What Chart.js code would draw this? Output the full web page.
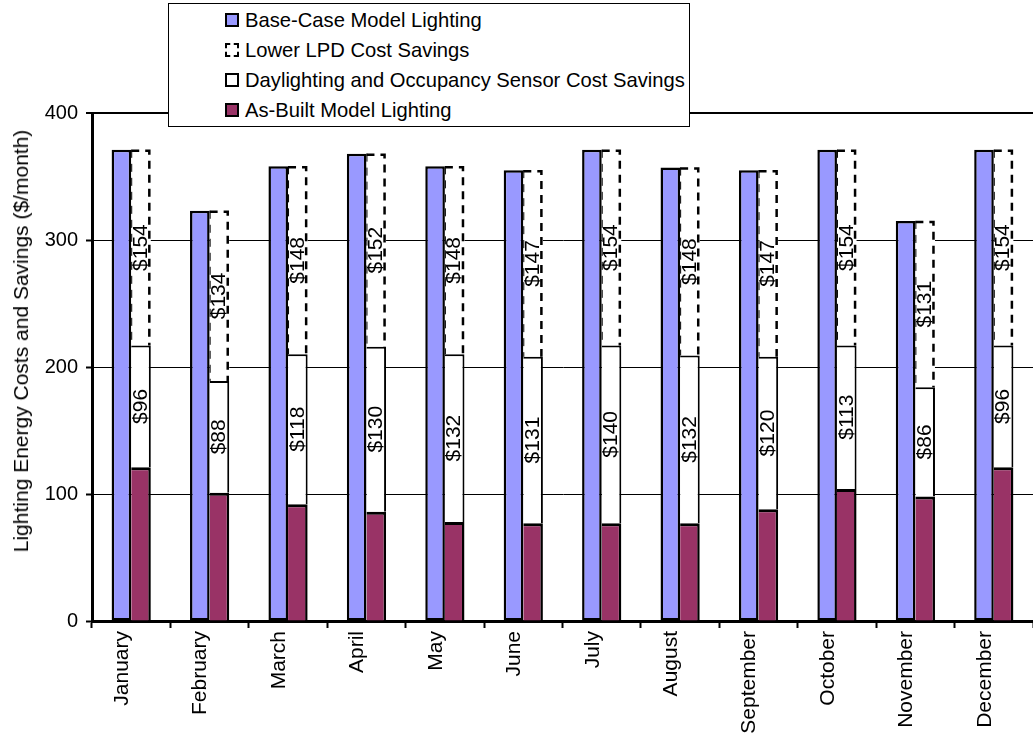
<!DOCTYPE html>
<html>
<head>
<meta charset="utf-8">
<title>Lighting Energy Costs and Savings</title>
<script src="https://cdn.jsdelivr.net/npm/chart.js@4.4.0/dist/chart.umd.min.js"></script>
<style>
  body { margin: 0; background: #fff; }
  #wrap { position: relative; width: 1033px; height: 736px; }
  #yTitle {
    position: absolute; left: 21px; top: 341px;
    transform: translate(-50%, -50%) rotate(-90deg);
    white-space: nowrap;
    font: 21px "Liberation Sans", Arial, sans-serif; color: #000;
  }
  #legend {
    position: absolute; left: 168px; top: 3px; width: 522px; height: 124px;
    box-sizing: border-box; border: 1px solid #000; background: #fff;
    padding-top: 1px;
    font: 20.2px "Liberation Sans", Arial, sans-serif; color: #000;
  }
  .row { height: 30px; display: flex; align-items: center; white-space: nowrap; }
  .swatch {
    width: 14px; height: 14px; box-sizing: border-box;
    margin-left: 56px; margin-right: 6px;
    border: 2px solid #000;
  }
</style>
</head>
<body>
<div id="wrap">
  <canvas id="savingsChart"></canvas>
  <div id="yTitle">Lighting Energy Costs and Savings ($/month)</div>
  <div id="legend"></div>
</div>
<script>
// values, $/month
var months = ['January', 'February', 'March', 'April', 'May', 'June',
              'July', 'August', 'September', 'October', 'November', 'December'];
var baseCase = [371, 323, 358, 368, 358, 355, 371, 357, 355, 371, 315, 371];
var asBuilt = [121, 101, 92, 86, 78, 77, 77, 77, 88, 104, 98, 121];
var daylightSavings = [96, 88, 118, 130, 132, 131, 140, 132, 120, 113, 86, 96];
var lpdSavings = [154, 134, 148, 152, 148, 147, 154, 148, 147, 154, 131, 154];
var yTicks = [0, 100, 200, 300, 400];

var seriesNames = {
    base: 'Base-Case Model Lighting',
    lpd: 'Lower LPD Cost Savings',
    daylight: 'Daylighting and Occupancy Sensor Cost Savings',
    built: 'As-Built Model Lighting'
};

var FONT = '"Liberation Sans", Arial, sans-serif';
Chart.defaults.font.family = FONT;
Chart.defaults.font.size = 20;
Chart.defaults.color = '#000';

// legend, in the order of the original
var legendItems = [
    { name: seriesNames.base, style: 'background:#9999FF;' },
    { name: seriesNames.lpd, style: 'background:#fff;border-style:dashed;' },
    { name: seriesNames.daylight, style: 'background:#fff;' },
    { name: seriesNames.built, style: 'background:#993366;' }
];
document.getElementById('legend').innerHTML = legendItems.map(function (it) {
    return '<div class="row"><span class="swatch" style="' + it.style + '"></span>' + it.name + '</div>';
}).join('');

// dashed outline round the Lower LPD segment
var lpdOutline = {
    id: 'lpdOutline',
    afterDatasetsDraw: function (chart) {
        var meta = chart.getDatasetMeta(3);
        var ctx = chart.ctx;
        ctx.save();
        ctx.strokeStyle = '#000';
        ctx.setLineDash([8, 6]);
        meta.data.forEach(function (bar) {
            var p = bar.getProps(['x', 'y', 'base', 'width'], true);
            var l = p.x - p.width / 2, r = p.x + p.width / 2;
            ctx.lineWidth = 2.5;
            ctx.beginPath();
            ctx.moveTo(l, p.y + 1);
            ctx.lineTo(r - 1.5, p.y + 1);
            ctx.lineTo(r - 1.5, p.base);
            ctx.stroke();
            ctx.lineWidth = 1;
            ctx.beginPath();
            ctx.moveTo(l + 0.5, p.y);
            ctx.lineTo(l + 0.5, p.base);
            ctx.stroke();
        });
        ctx.restore();
    }
};

// "$154" style labels inside both savings segments
var segmentLabels = {
    id: 'segmentLabels',
    afterDatasetsDraw: function (chart) {
        var ctx = chart.ctx;
        ctx.save();
        ctx.font = '21px ' + FONT;
        ctx.fillStyle = '#000';
        ctx.textAlign = 'center';
        ctx.textBaseline = 'middle';
        [2, 3].forEach(function (di) {
            var meta = chart.getDatasetMeta(di);
            var values = chart.data.datasets[di].data;
            meta.data.forEach(function (bar, i) {
                var p = bar.getProps(['x', 'y', 'base'], true);
                ctx.save();
                ctx.translate(p.x, (p.y + p.base) / 2);
                ctx.rotate(-Math.PI / 2);
                ctx.fillText('$' + values[i], 0, 0);
                ctx.restore();
            });
        });
        ctx.restore();
    }
};

var ctx = document.getElementById('savingsChart').getContext('2d');
var savingsChart = new Chart(ctx, {
    type: 'bar',
    data: {
        labels: months,
        datasets: [{
            label: seriesNames.base,
            data: baseCase,
            stack: 'base',
            backgroundColor: '#9999FF',
            borderColor: '#000',
            borderWidth: 2.5,
            borderSkipped: false
        }, {
            label: seriesNames.built,
            data: asBuilt,
            stack: 'built',
            backgroundColor: '#993366',
            borderColor: '#000',
            borderWidth: { top: 3, right: 2.5, left: 0, bottom: 0 }
        }, {
            label: seriesNames.daylight,
            data: daylightSavings,
            stack: 'built',
            backgroundColor: '#fff',
            borderColor: '#000',
            borderWidth: { top: 2, right: 2, left: 0, bottom: 0 }
        }, {
            label: seriesNames.lpd,
            data: lpdSavings,
            stack: 'built',
            backgroundColor: '#fff',
            borderWidth: 0
        }]
    },
    options: {
        responsive: true,
        maintainAspectRatio: false,
        animation: false,
        layout: { padding: { top: 113, left: 0, right: 0, bottom: 0 } },
        datasets: { bar: { categoryPercentage: 0.5, barPercentage: 1.0 } },
        plugins: {
            legend: { display: false },
            tooltip: { enabled: false }
        },
        scales: {
            x: {
                stacked: true,
                afterFit: function (scale) { scale.height = 115; },
                grid: {
                    offset: true,
                    drawOnChartArea: false,
                    drawTicks: true,
                    tickLength: 7,
                    tickWidth: 2,
                    tickColor: '#000'
                },
                border: { color: '#000', width: 3 },
                ticks: {
                    autoSkip: false, minRotation: 90, maxRotation: 90,
                    padding: 3, labelOffset: -9,
                    font: { size: 21 }
                }
            },
            y: {
                stacked: true,
                min: 0,
                max: 400,
                afterFit: function (scale) { scale.width = 92; },
                afterBuildTicks: function (scale) {
                    scale.ticks = yTicks.map(function (v) { return { value: v }; });
                },
                grid: {
                    color: '#000',
                    lineWidth: function (c) { return c.tick && c.tick.value === 400 ? 2 : 1; },
                    tickLength: 6,
                    tickWidth: 2,
                    tickColor: '#000'
                },
                border: { color: '#000', width: 3 },
                ticks: { padding: 8 }
            }
        }
    },
    plugins: [lpdOutline, segmentLabels]
});
</script>
</body>
</html>
